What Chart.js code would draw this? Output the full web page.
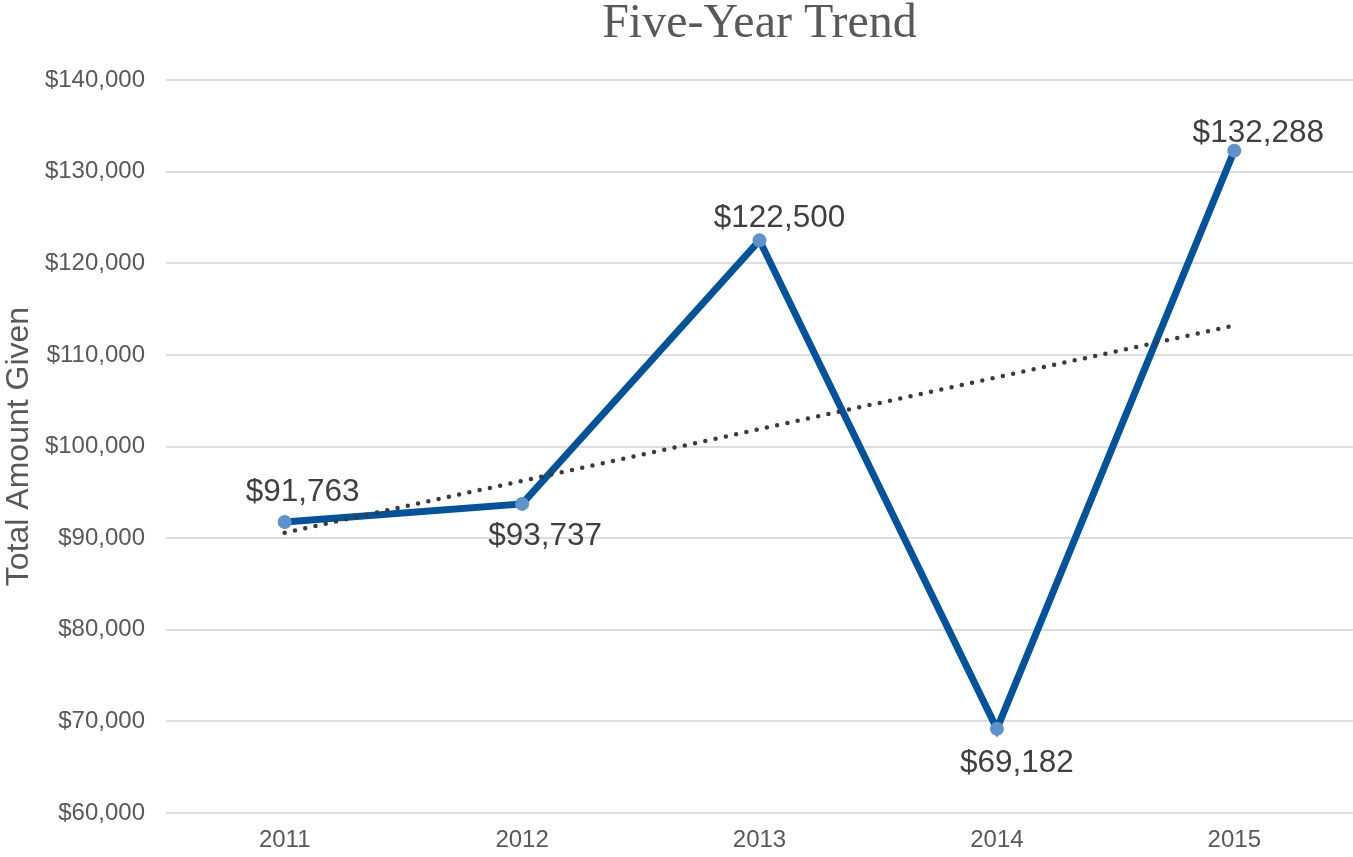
<!DOCTYPE html>
<html>
<head>
<meta charset="utf-8">
<script src="https://cdn.jsdelivr.net/npm/chart.js@4/dist/chart.umd.min.js"></script>
<style>
  html, body { margin: 0; padding: 0; background: #ffffff; }
  #wrap { width: 1353px; height: 857px; }
</style>
</head>
<body>
<div id="wrap"><canvas id="c" width="1353" height="857"></canvas></div>
<script>
// ---- data ----
const years = ['2011', '2012', '2013', '2014', '2015'];
const totals = [91763, 93737, 122500, 69182, 132288];
const trendValues = [90600, null, null, null, 113200];
const yTickMin = 60000;
const yTickMax = 140000;
const yTickStep = 10000;

const fmt = v => '$' + Number(v).toLocaleString('en-US');

// label offsets (style only)
const labelOffsets = [[18, -30], [23, 32], [20, -22], [20, 34], [24, -17]];

const dataLabelPlugin = {
  id: 'pointLabels',
  afterDatasetsDraw(chart) {
    const ctx = chart.ctx;
    const meta = chart.getDatasetMeta(1);
    ctx.save();
    ctx.font = '31.5px "Liberation Sans", Arial, sans-serif';
    ctx.fillStyle = '#404040';
    ctx.textAlign = 'center';
    ctx.textBaseline = 'middle';
    meta.data.forEach((pt, i) => {
      const o = labelOffsets[i];
      ctx.fillText(fmt(totals[i]), pt.x + o[0], pt.y + o[1]);
    });
    ctx.restore();
  }
};

new Chart(document.getElementById('c'), {
  type: 'line',
  data: {
    labels: years,
    datasets: [
      {
        label: 'Trend',
        data: trendValues,
        spanGaps: true,
        borderColor: '#3a3a3f',
        borderWidth: 4.5,
        borderDash: [0, 10.5],
        borderCapStyle: 'round',
        pointRadius: 0,
        pointHoverRadius: 0,
        fill: false,
        tension: 0,
        order: 0
      },
      {
        label: 'Total Amount Given',
        data: totals,
        borderColor: '#02529C',
        borderWidth: 7,
        pointRadius: 7,
        pointHoverRadius: 7,
        pointBackgroundColor: '#5E92CB',
        pointBorderWidth: 0,
        pointBorderColor: '#5E92CB',
        fill: false,
        tension: 0,
        order: 1
      }
    ]
  },
  options: {
    responsive: false,
    devicePixelRatio: 1,
    animation: false,
    layout: { padding: 0, autoPadding: false },
    plugins: {
      legend: { display: false },
      tooltip: { enabled: false },
      title: {
        display: true,
        text: 'Five-Year Trend',
        fullSize: false,
        color: '#595959',
        font: { family: '"Liberation Serif", "Times New Roman", serif', size: 48, weight: 'normal', lineHeight: 1 },
        padding: { top: 0, bottom: 32 }
      }
    },
    scales: {
      x: {
        offset: true,
        grid: { display: false, drawTicks: false },
        border: { display: false },
        ticks: {
          color: '#595959',
          font: { family: '"Liberation Sans", Arial, sans-serif', size: 24 },
          padding: 13,
          maxRotation: 0
        },
        afterFit(scale) { scale.height = 44; scale.paddingRight = 0; scale.paddingLeft = 0; }
      },
      y: {
        min: yTickMin,
        max: yTickMax,
        grid: { color: '#DDDDDD', lineWidth: 2, drawTicks: false },
        border: { display: false },
        ticks: {
          stepSize: yTickStep,
          color: '#595959',
          font: { family: '"Liberation Sans", Arial, sans-serif', size: 24 },
          padding: 21,
          callback: v => fmt(v)
        },
        title: {
          display: true,
          text: 'Total Amount Given',
          color: '#595959',
          font: { family: '"Liberation Sans", Arial, sans-serif', size: 32, weight: 'normal', lineHeight: 1.2 },
          padding: { top: 0, bottom: 0 }
        },
        afterFit(scale) { scale.width = 166; }
      }
    }
  },
  plugins: [dataLabelPlugin]
});
</script>
</body>
</html>
